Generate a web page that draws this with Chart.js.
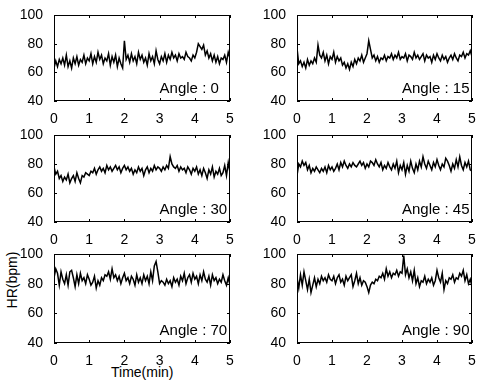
<!DOCTYPE html>
<html>
<head>
    <title>HR vs Time - Angles</title>
    <meta charset="UTF-8">
    <script src="https://cdn.jsdelivr.net/npm/chart.js@4.4.1/dist/chart.umd.min.js"></script>
    <style>
        body {
            margin: 0;
            background: #fff;
            width: 478px;
            height: 384px;
            position: relative;
            overflow: hidden;
            font-family: "Liberation Sans", Arial, sans-serif;
            color: #000;
        }
        .panel { position: absolute; }
        .lbl { position: absolute; font-size: 14px; white-space: nowrap; }
    </style>
</head>
<body>
    <div class="lbl" id="xTitle">Time(min)</div>
    <div class="lbl" id="yTitle">HR(bpm)</div>

    <script>
        // Time axis: one sample every 3 s over 5 minutes
        var timeStep = 0.05;
        var xTicks = [0, 1, 2, 3, 4, 5];
        var yTicks = [40, 60, 80, 100];
        var angleLabels = ['Angle : 0', 'Angle : 15', 'Angle : 30', 'Angle : 45', 'Angle : 70', 'Angle : 90'];

        // HR values (bpm)
        var hrAngle0 = [
            63,68,64,69,66,70,65,72,64,68,63,70,66,71,65,69,67,72,66,70,
            68,73,66,71,67,74,69,72,66,70,68,73,65,71,67,72,64,70,66,63,
            82,69,72,67,73,68,71,66,74,69,72,67,70,65,73,68,71,66,75,69,
            66,71,68,73,67,72,69,74,70,72,68,73,70,71,69,74,71,70,68,72,
            70,74,80,78,76,79,72,75,70,73,68,72,67,71,66,70,69,72,67,74,70
        ];
        var hrAngle15 = [
            77,66,68,64,67,63,69,65,68,66,70,67,79,72,70,74,68,72,66,71,
            69,74,67,71,68,70,65,67,63,66,62,67,64,69,66,70,68,72,67,70,
            73,82,76,70,72,68,71,67,70,69,72,68,71,70,73,69,72,70,74,69,
            71,70,73,68,72,71,69,74,70,72,69,71,73,68,72,70,71,67,72,69,
            73,70,68,72,69,71,67,70,72,69,73,70,68,72,71,74,70,73,72,75,71
        ];
        var hrAngle30 = [
            78,73,75,70,72,68,71,69,73,67,70,72,68,74,70,67,72,71,74,73,
            72,75,74,77,73,76,78,75,77,74,79,76,78,75,77,79,76,78,74,77,
            79,76,78,75,77,73,76,74,78,75,77,72,76,78,74,77,75,79,76,78,
            77,75,78,76,79,77,85,80,78,77,79,75,78,76,77,74,78,76,73,77,
            75,78,73,76,72,77,74,70,76,73,78,71,75,73,77,72,74,79,72,81,74
        ];
        var hrAngle45 = [
            72,80,78,82,79,81,76,79,74,77,75,78,76,74,77,75,78,74,79,76,
            78,75,77,80,76,81,78,82,79,77,80,78,81,79,78,80,82,79,81,77,
            80,78,82,81,79,83,80,78,81,76,79,77,81,78,76,80,77,82,74,79,
            76,81,73,79,75,82,77,74,80,76,82,78,85,80,77,82,79,76,81,78,
            83,79,76,80,78,84,82,79,75,80,77,83,78,85,79,76,81,78,82,76,75
        ];
        var hrAngle70 = [
            84,90,87,79,88,83,80,86,79,88,89,84,78,86,80,87,82,84,80,86,
            83,79,81,85,77,82,79,84,82,86,85,88,83,90,84,86,82,85,80,84,
            87,82,84,80,85,83,79,86,81,84,80,86,82,85,80,88,82,92,95,88,
            80,82,81,79,83,80,82,78,84,81,83,79,85,82,87,80,84,86,81,87,
            83,85,80,86,82,88,83,81,85,79,86,82,84,80,83,81,86,82,79,84,79
        ];
        var hrAngle90 = [
            84,77,86,79,88,82,76,83,74,79,84,78,83,80,85,82,84,81,86,83,
            82,85,80,84,86,81,83,79,85,82,84,86,78,82,87,80,84,79,82,81,
            78,74,79,81,80,83,82,85,84,87,83,90,85,88,84,87,86,89,85,88,
            87,99,86,90,84,88,82,89,80,84,78,82,81,85,80,83,81,84,79,82,
            89,84,81,87,76,82,80,84,83,86,81,84,83,87,85,89,82,86,80,83,78
        ];
        var allSeries = [hrAngle0, hrAngle15, hrAngle30, hrAngle45, hrAngle70, hrAngle90];

        // plot-area boxes (left, top, width, height) in page pixels
        var plotBoxes = [
            [54, 15, 176, 86], [297, 15, 175, 86],
            [54, 135, 176, 87], [297, 135, 175, 87],
            [54, 254, 176, 89], [297, 254, 175, 89]
        ];
        var yAxisW = 44, xAxisH = 24, padTop = 8, padRight = 8;

        // Box around the plot, small inward ticks and the angle tag
        var framePlugin = {
            id: 'frame',
            afterDatasetsDraw: function (chart, args, opts) {
                var ctx = chart.ctx, a = chart.chartArea;
                var xs = chart.scales.x, ys = chart.scales.y;
                ctx.save();
                ctx.strokeStyle = '#000';
                ctx.lineWidth = 1;
                ctx.strokeRect(a.left + 0.5, a.top + 0.5, a.right - a.left - 1, a.bottom - a.top - 1);
                ctx.beginPath();
                xs.ticks.forEach(function (t) {
                    var px = Math.round(xs.getPixelForValue(t.value)) + 0.5;
                    ctx.moveTo(px, a.bottom); ctx.lineTo(px, a.bottom - 3);
                    ctx.moveTo(px, a.top); ctx.lineTo(px, a.top + 3);
                });
                ys.ticks.forEach(function (t) {
                    var py = Math.round(ys.getPixelForValue(t.value)) + 0.5;
                    ctx.moveTo(a.left, py); ctx.lineTo(a.left + 3, py);
                    ctx.moveTo(a.right, py); ctx.lineTo(a.right - 3, py);
                });
                ctx.stroke();
                ctx.fillStyle = '#000';
                ctx.font = '15px "Liberation Sans", Arial, sans-serif';
                ctx.textAlign = 'left';
                ctx.textBaseline = 'middle';
                ctx.fillText(opts.label, xs.getPixelForValue(3), ys.getPixelForValue(48.5));
                ctx.restore();
            }
        };

        function makePanel(i) {
            var b = plotBoxes[i];
            var w = yAxisW + b[2] + padRight, h = padTop + b[3] + xAxisH;
            var div = document.createElement('div');
            div.className = 'panel';
            div.style.left = (b[0] - yAxisW) + 'px';
            div.style.top = (b[1] - padTop) + 'px';
            div.style.width = w + 'px';
            div.style.height = h + 'px';
            var canvas = document.createElement('canvas');
            canvas.width = w; canvas.height = h;
            div.appendChild(canvas);
            document.body.appendChild(div);

            var pts = allSeries[i].map(function (v, k) { return { x: k * timeStep, y: v }; });
            var tickFont = { family: '"Liberation Sans", Arial, sans-serif', size: 14 };

            return new Chart(canvas.getContext('2d'), {
                type: 'line',
                data: {
                    datasets: [{
                        data: pts,
                        borderColor: '#000',
                        borderWidth: 1.5,
                        pointRadius: 0,
                        tension: 0,
                        fill: false
                    }]
                },
                options: {
                    responsive: false,
                    animation: false,
                    devicePixelRatio: 1,
                    layout: { padding: { left: 0, right: padRight, top: padTop, bottom: 0 } },
                    plugins: {
                        legend: { display: false },
                        tooltip: { enabled: false },
                        frame: { label: angleLabels[i] }
                    },
                    scales: {
                        x: {
                            type: 'linear', min: 0, max: 5,
                            afterBuildTicks: function (s) { s.ticks = xTicks.map(function (v) { return { value: v }; }); },
                            ticks: { color: '#000', font: tickFont, padding: 2, maxRotation: 0 },
                            grid: { display: false },
                            border: { display: false },
                            afterFit: function (s) { s.height = xAxisH; s.paddingLeft = 0; s.paddingRight = 0; }
                        },
                        y: {
                            type: 'linear', min: 40, max: 100,
                            afterBuildTicks: function (s) { s.ticks = yTicks.map(function (v) { return { value: v }; }); },
                            ticks: { color: '#000', font: tickFont, padding: 3 },
                            grid: { display: false },
                            border: { display: false },
                            afterFit: function (s) { s.width = yAxisW; s.paddingTop = 0; s.paddingBottom = 0; }
                        }
                    }
                },
                plugins: [framePlugin]
            });
        }

        for (var i = 0; i < allSeries.length; i++) makePanel(i);

        // axis titles, placed around the bottom-left panel
        var xt = document.getElementById('xTitle');
        xt.style.left = (142 - xt.offsetWidth / 2) + 'px';
        xt.style.top = (372 - xt.offsetHeight / 2) + 'px';
        var yt = document.getElementById('yTitle');
        yt.style.left = (12 - yt.offsetWidth / 2) + 'px';
        yt.style.top = (280 - yt.offsetHeight / 2) + 'px';
        yt.style.transform = 'rotate(-90deg)';
    </script>
</body>
</html>
